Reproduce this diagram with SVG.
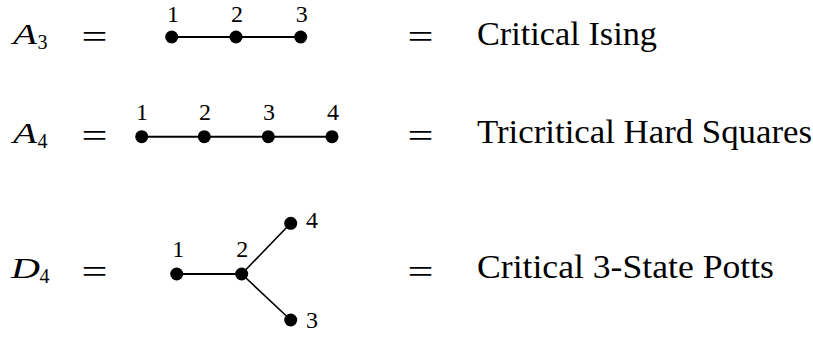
<svg xmlns="http://www.w3.org/2000/svg" width="813" height="337" viewBox="0 0 813 337">
<style>
text{font-family:"Liberation Serif","Times New Roman",serif;fill:#000}
.m{font-style:italic;font-size:30px}
.sub{font-size:20px}
.eq{font-size:33px}
.lab{font-size:24px;text-anchor:middle}
.lab4{font-size:24px}
.name{font-size:33px}
.e{stroke:#000;stroke-width:2;fill:none}
.d{stroke:#000;stroke-width:1.6;fill:none}
.n{fill:#000}
</style>
<rect width="813" height="337" fill="#fff"/>
<g id="row-A3">
<text class="m" x="13" y="43.5" textLength="24" lengthAdjust="spacingAndGlyphs">A</text><text class="sub" x="37.5" y="49">3</text>
<text class="eq" x="81.5" y="47.5" textLength="26" lengthAdjust="spacingAndGlyphs">=</text>
<text class="eq" x="407.5" y="48" textLength="26" lengthAdjust="spacingAndGlyphs">=</text>
<text class="name" x="477" y="44.5" textLength="180" lengthAdjust="spacingAndGlyphs">Critical Ising</text>
</g>
<g id="row-A4">
<text class="m" x="13" y="142.7" textLength="24" lengthAdjust="spacingAndGlyphs">A</text><text class="sub" x="37.5" y="148.4">4</text>
<text class="eq" x="81.5" y="146.5" textLength="26" lengthAdjust="spacingAndGlyphs">=</text>
<text class="eq" x="407.5" y="146.5" textLength="26" lengthAdjust="spacingAndGlyphs">=</text>
<text class="name" x="477" y="143" textLength="335" lengthAdjust="spacingAndGlyphs">Tricritical Hard Squares</text>
</g>
<g id="row-D4">
<text class="m" x="11" y="278.3" textLength="29" lengthAdjust="spacingAndGlyphs">D</text><text class="sub" x="39.5" y="283.3">4</text>
<text class="eq" x="81.5" y="282.5" textLength="26" lengthAdjust="spacingAndGlyphs">=</text>
<text class="eq" x="407.5" y="282.5" textLength="26" lengthAdjust="spacingAndGlyphs">=</text>
<text class="name" x="477" y="278.3" textLength="297" lengthAdjust="spacingAndGlyphs">Critical 3-State Potts</text>
</g>
<g id="connectors">
<line class="e" x1="171.7" y1="37" x2="300.7" y2="37"/>
<line class="e" x1="141.7" y1="136.7" x2="332" y2="136.7"/>
<line class="e" x1="176.7" y1="274" x2="241.7" y2="274"/>
<line class="d" x1="241.7" y1="274" x2="290.7" y2="223.3"/>
<line class="d" x1="241.7" y1="274" x2="290.7" y2="320"/>
</g>
<g id="A3-n1"><circle class="n" cx="171.7" cy="37" r="6.5"/><text class="lab" x="173" y="22">1</text></g>
<g id="A3-n2"><circle class="n" cx="236" cy="37" r="6.5"/><text class="lab" x="237" y="22">2</text></g>
<g id="A3-n3"><circle class="n" cx="300.7" cy="37" r="6.5"/><text class="lab" x="301.7" y="22">3</text></g>
<g id="A4-n1"><circle class="n" cx="141.7" cy="136.7" r="6.5"/><text class="lab" x="142" y="120">1</text></g>
<g id="A4-n2"><circle class="n" cx="204.3" cy="136.7" r="6.5"/><text class="lab" x="205" y="120">2</text></g>
<g id="A4-n3"><circle class="n" cx="268.3" cy="136.7" r="6.5"/><text class="lab" x="269" y="120">3</text></g>
<g id="A4-n4"><circle class="n" cx="332" cy="136.7" r="6.5"/><text class="lab" x="333" y="120">4</text></g>
<g id="D4-n1"><circle class="n" cx="176.7" cy="274" r="6.5"/><text class="lab" x="178.3" y="256.7">1</text></g>
<g id="D4-n2"><circle class="n" cx="241.7" cy="274" r="6.5"/><text class="lab" x="242.3" y="256.7">2</text></g>
<g id="D4-n4"><circle class="n" cx="290.7" cy="223.3" r="6.5"/><text class="lab4" x="306" y="228.3">4</text></g>
<g id="D4-n3"><circle class="n" cx="290.7" cy="320" r="6.5"/><text class="lab4" x="306" y="328.3">3</text></g>
</svg>
